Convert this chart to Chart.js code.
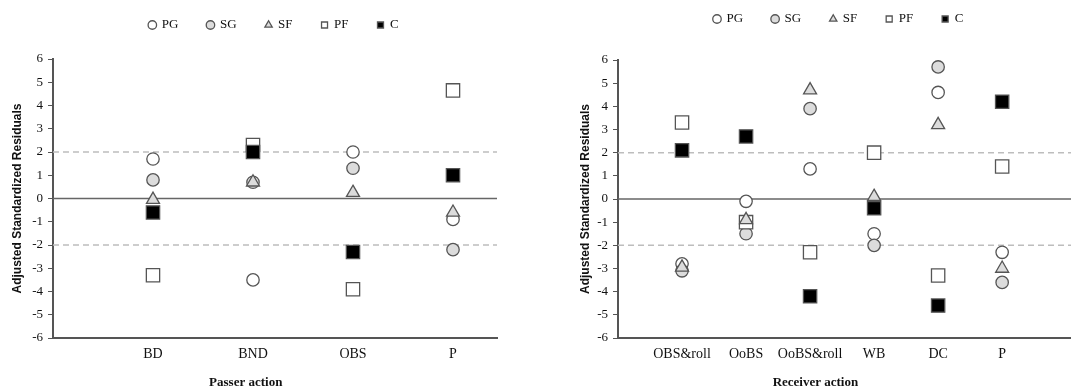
<!DOCTYPE html>
<html>
<head>
<meta charset="utf-8">
<script src="https://cdn.jsdelivr.net/npm/chart.js@4.4.1/dist/chart.umd.min.js"></script>
<style>
  body { margin: 0; background: #fff; }
  #wrap { position: relative; width: 1071px; height: 387px; overflow: hidden; }
  canvas { position: absolute; top: 0; }
</style>
</head>
<body>
<div id="wrap">
  <canvas id="passerChart" width="535" height="387" style="left:0"></canvas>
  <!-- a little wider than the space left; chart.js keeps ~11px on the right, clipped by the wrapper -->
  <canvas id="receiverChart" width="547" height="387" style="left:535px"></canvas>
</div>
<script>
// Player positions (series)
const positions = ['PG', 'SG', 'SF', 'PF', 'C'];

// Passer action chart
const passerActions = ['BD', 'BND', 'OBS', 'P'];
const passerPG = [1.7, -3.5, 2.0, -0.9];
const passerSG = [0.8, 0.7, 1.3, -2.2];
const passerSF = [-0.05, 0.7, 0.25, -0.6];
const passerPF = [-3.3, 2.3, -3.9, 4.65];
const passerC = [-0.6, 2.0, -2.3, 1.0];

// Receiver action chart
const receiverActions = ['OBS&roll', 'OoBS', 'OoBS&roll', 'WB', 'DC', 'P'];
const receiverPG = [-2.8, -0.1, 1.3, -1.5, 4.6, -2.3];
const receiverSG = [-3.1, -1.5, 3.9, -2.0, 5.7, -3.6];
const receiverSF = [-2.95, -0.9, 4.7, 0.1, 3.2, -3.0];
const receiverPF = [3.3, -1.0, -2.3, 2.0, -3.3, 1.4];
const receiverC = [2.1, 2.7, -4.2, -0.4, -4.6, 4.2];

// y axis ticks and reference levels
const yTicks = [-6, -5, -4, -3, -2, -1, 0, 1, 2, 3, 4, 5, 6];
const cutoffLevels = [2, -2];
const zeroLevel = [0];

// marker look per position
const markerStyles = {
    PG: { pointStyle: 'circle', fill: '#ffffff', radius: 6.2, order: 5 },
    SG: { pointStyle: 'circle', fill: '#dcdcdc', radius: 6.2, order: 4 },
    SF: { pointStyle: 'triangle', fill: '#dcdcdc', radius: 7.5, order: 2 },
    PF: { pointStyle: 'rect', fill: '#ffffff', radius: 9.4, order: 3 },
    C: { pointStyle: 'rect', fill: '#000000', radius: 9.4, order: 1 }
};

Chart.defaults.font.family = "'Liberation Serif', 'Times New Roman', serif";
Chart.defaults.color = '#111';

// moves the legend sideways a few pixels after layout
const legendNudge = {
    id: 'legendNudge',
    afterLayout: function(chart, args, opts) {
        if (chart.legend && opts.dx) {
            chart.legend.left += opts.dx;
            chart.legend.right += opts.dx;
        }
    }
};

function makeChart(canvasId, categories, series, cfg) {
    const datasets = positions.map(function(pos, i) {
        const st = markerStyles[pos];
        return {
            label: pos,
            data: series[i].map(function(v, j) { return { x: j + 1, y: v }; }),
            pointStyle: st.pointStyle,
            backgroundColor: st.fill,
            borderColor: '#555',
            borderWidth: 1.3,
            pointRadius: st.radius,
            pointHoverRadius: st.radius,
            order: st.order
        };
    });

    // reference lines across the plot
    cutoffLevels.forEach(function(lvl) {
        datasets.push({
            label: '',
            data: [{ x: 0, y: lvl }, { x: cfg.xMax, y: lvl }],
            showLine: true,
            borderColor: '#bdbdbd',
            borderWidth: 1.5,
            borderDash: [6, 4],
            pointRadius: 0,
            order: 10
        });
    });
    zeroLevel.forEach(function(lvl) {
        datasets.push({
            label: '',
            data: [{ x: 0, y: lvl }, { x: cfg.xMax, y: lvl }],
            showLine: true,
            borderColor: '#666',
            borderWidth: 1.5,
            pointRadius: 0,
            order: 9
        });
    });

    return new Chart(document.getElementById(canvasId), {
        type: 'scatter',
        data: { datasets: datasets },
        plugins: [legendNudge],
        options: {
            responsive: false,
            animation: false,
            layout: { padding: cfg.padding },
            plugins: {
                tooltip: { enabled: false },
                legendNudge: { dx: cfg.legendDx },
                legend: {
                    position: 'top',
                    fullSize: false,
                    labels: {
                        usePointStyle: true,
                        boxWidth: 6,
                        boxHeight: 6,
                        padding: 29,
                        color: '#111',
                        font: { size: 13 },
                        filter: function(item) { return positions.includes(item.text); },
                        sort: function(a, b) { return a.datasetIndex - b.datasetIndex; }
                    }
                },
                // empty spacer between legend and plot
                title: {
                    display: true,
                    text: '',
                    weight: 500,
                    font: { size: 10, lineHeight: 1 },
                    padding: { top: 0, bottom: cfg.gap }
                }
            },
            scales: {
                x: {
                    type: 'linear',
                    min: 0,
                    max: cfg.xMax,
                    afterBuildTicks: function(axis) {
                        axis.ticks = categories.map(function(c, i) { return { value: i + 1 }; });
                    },
                    afterFit: function(s) {
                        s.height = 49;
                        s.paddingLeft = 0;
                        s.paddingRight = 0;
                    },
                    ticks: {
                        autoSkip: false,
                        maxRotation: 0,
                        padding: 8,
                        font: { size: 14 },
                        callback: function(v) { return categories[v - 1]; }
                    },
                    grid: { display: false, drawTicks: false },
                    border: { color: '#555', width: 2 },
                    title: {
                        display: true,
                        // trailing spaces push the centred title left, as in the original
                        text: cfg.xTitle + ' '.repeat(18),
                        font: { size: 13, weight: 'bold', lineHeight: 1 },
                        padding: { top: 0, bottom: -2.5 }
                    }
                },
                y: {
                    min: -6,
                    max: 6,
                    afterBuildTicks: function(axis) {
                        axis.ticks = yTicks.map(function(v) { return { value: v }; });
                    },
                    afterFit: function(s) { s.width = cfg.axisWidth; },
                    ticks: { padding: 5, font: { size: 13 } },
                    grid: { drawOnChartArea: false, color: '#555', tickLength: 5 },
                    border: { color: '#555', width: 2 },
                    title: {
                        display: true,
                        text: 'Adjusted Standardized Residuals',
                        font: { family: "'Liberation Sans', Arial, sans-serif", size: 12, weight: 'bold' },
                        padding: { top: 10, bottom: 0 }
                    }
                }
            }
        }
    });
}

makeChart('passerChart', passerActions,
    [passerPG, passerSG, passerSF, passerPF, passerC],
    { xMax: 4.44, axisWidth: 53, gap: 7.5, legendDx: -1, xTitle: 'Passer action',
      padding: { top: -10.5, left: 0, right: 38, bottom: 0 } });

makeChart('receiverChart', receiverActions,
    [receiverPG, receiverSG, receiverSF, receiverPF, receiverC],
    { xMax: 7.08, axisWidth: 50, gap: 14.5, legendDx: -6, xTitle: 'Receiver action',
      padding: { top: -16.5, left: 33, right: 0, bottom: 0 } });
</script>
</body>
</html>
